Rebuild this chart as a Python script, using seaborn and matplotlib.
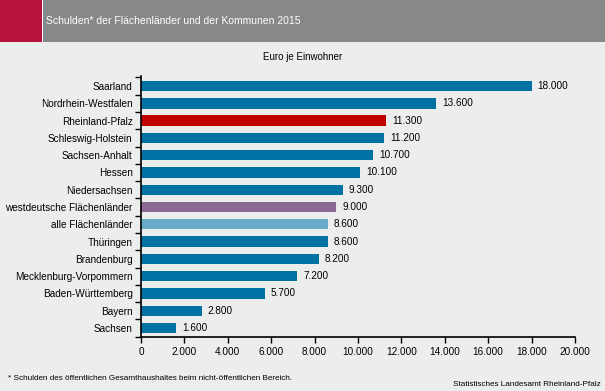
import pandas as pd
import seaborn as sns
import matplotlib.pyplot as plt
from matplotlib.patches import Rectangle

# Data
laender = ['Saarland', 'Nordrhein-Westfalen', 'Rheinland-Pfalz', 'Schleswig-Holstein',
           'Sachsen-Anhalt', 'Hessen', 'Niedersachsen', 'westdeutsche Flächenländer',
           'alle Flächenländer', 'Thüringen', 'Brandenburg', 'Mecklenburg-Vorpommern',
           'Baden-Württemberg', 'Bayern', 'Sachsen']
schulden = [18000, 13600, 11300, 11200, 10700, 10100, 9300, 9000,
            8600, 8600, 8200, 7200, 5700, 2800, 1600]
x_ticks = [0, 2000, 4000, 6000, 8000, 10000, 12000, 14000, 16000, 18000, 20000]

blue = '#0071a3'
farben = {name: blue for name in laender}
farben['Rheinland-Pfalz'] = '#c00000'
farben['westdeutsche Flächenländer'] = '#896894'
farben['alle Flächenländer'] = '#69abc9'

df = pd.DataFrame({'Land': laender, 'Euro': schulden})

def de_num(v):
    return f'{v:,.0f}'.replace(',', '.')

sns.set_style('white')
plt.rcParams['font.family'] = ['Liberation Sans', 'DejaVu Sans']
plt.rcParams['text.color'] = 'black'
plt.rcParams['xtick.color'] = 'black'
plt.rcParams['ytick.color'] = 'black'
bg = '#eceeee'

fig = plt.figure(figsize=(6.05, 3.91), dpi=100, facecolor=bg)
ax = fig.add_axes([0.2331, 0.1381, 0.7173, 0.6675])
ax.set_facecolor(bg)

sns.barplot(data=df, y='Land', x='Euro', hue='Land', palette=farben,
            order=laender, width=0.6, legend=False, ax=ax, saturation=1,
            linewidth=0)

for i, v in enumerate(schulden):
    ax.text(v + 280, i, de_num(v), va='center', ha='left', fontsize=7.2, color='black')

ax.set_xlim(0, 20000)
ax.set_ylim(14.52, -0.58)
ax.set_xticks(x_ticks)
ax.set_xticklabels([de_num(t) for t in x_ticks], fontsize=7.2)
ax.set_yticks(range(len(laender)))
ax.set_yticklabels(laender, fontsize=7.2)
ax.set_yticks([i - 0.5 for i in range(len(laender) + 1)], minor=True)
ax.tick_params(axis='y', which='major', length=0, pad=6)
ax.tick_params(axis='y', which='minor', length=4, width=1, color='black', left=True)
ax.tick_params(axis='x', length=4, width=1, color='black', bottom=True, pad=3)
ax.set_xlabel('')
ax.set_ylabel('')
for s in ['top', 'right']:
    ax.spines[s].set_visible(False)
for s in ['left', 'bottom']:
    ax.spines[s].set_color('black')
    ax.spines[s].set_linewidth(1.2)

# Header bar
fig.patches.append(Rectangle((0, 1 - 42 / 391), 1, 42 / 391, transform=fig.transFigure,
                             facecolor='#87888a', edgecolor='none', zorder=0))
fig.patches.append(Rectangle((0, 1 - 42 / 391), 42 / 605, 42 / 391, transform=fig.transFigure,
                             facecolor='#b5123e', edgecolor='none', zorder=1))
fig.patches.append(Rectangle((42 / 605, 1 - 42 / 391), 1.2 / 605, 42 / 391, transform=fig.transFigure,
                             facecolor='white', edgecolor='none', zorder=2))
fig.text(46 / 605, 1 - 21 / 391, 'Schulden* der Flächenländer und der Kommunen 2015',
         color='white', fontsize=7.5, va='center', ha='left')

fig.text(0.5, 1 - 57 / 391, 'Euro je Einwohner', fontsize=7, va='center', ha='center')
fig.text(8 / 605, 1 - 378 / 391,
         '* Schulden des öffentlichen Gesamthaushaltes beim nicht-öffentlichen Bereich.',
         fontsize=5.9, va='center', ha='left')
fig.text(601 / 605, 1 - 384 / 391, 'Statistisches Landesamt Rheinland-Pfalz',
         fontsize=5.9, va='center', ha='right')

fig.savefig('out.png', dpi=100, facecolor=bg)
